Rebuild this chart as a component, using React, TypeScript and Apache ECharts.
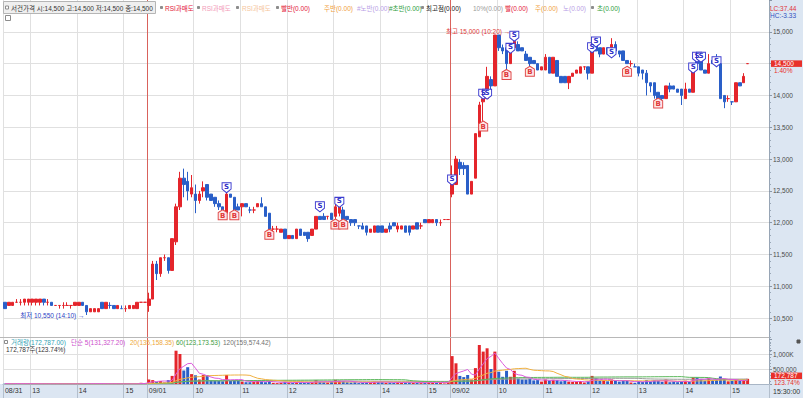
import React, { useEffect, useRef } from 'react';
import * as echarts from 'echarts';

const FONT = '"Liberation Sans Narrow", "Liberation Sans", "Noto Sans CJK KR", sans-serif';
const LFS = 6.5; // legend font size

// ---- time axis ----
const dayNames = ['08/31', '09/01', '09/02'];
const dayFirst = ['12:25', '09:00', '09:00'];
const dayLast = ['15:30', '15:30', '15:20'];
const padSlots = 5;

const tickIndex = [0, 7, 19, 31, 37, 49, 61, 73, 85, 97, 109, 115, 127, 139, 151, 163, 175, 187];
const tickText = ['08/31', '13', '14', '15', '09/01', '10', '11', '12', '13', '14', '15', '09/02', '10', '11', '12', '13', '14', '15'];
const dayBreakIndex = [37, 115];

// ---- price: [open, close, low, high] ----
const ohlc0831 = [
  [10750, 10650, 10650, 10750], [10700, 10750, 10700, 10750], [10700, 10750, 10700, 10750], [10750, 10750, 10750, 10800],
  [10750, 10750, 10700, 10800], [10750, 10800, 10700, 10800], [10750, 10800, 10700, 10800], [10750, 10800, 10700, 10800],
  [10750, 10800, 10700, 10800], [10750, 10800, 10700, 10800], [10800, 10750, 10700, 10800], [10750, 10750, 10700, 10800],
  [10750, 10700, 10700, 10750], [10700, 10700, 10700, 10700], [10700, 10700, 10650, 10700], [10700, 10700, 10650, 10750],
  [10700, 10700, 10700, 10750], [10700, 10700, 10650, 10700], [10700, 10750, 10700, 10750], [10700, 10750, 10700, 10750],
  [10750, 10700, 10700, 10750], [10700, 10600, 10550, 10700], [10600, 10650, 10600, 10650], [10600, 10650, 10600, 10650],
  [10600, 10650, 10600, 10650], [10750, 10650, 10650, 10750], [10650, 10750, 10650, 10750], [10700, 10700, 10650, 10750],
  [10700, 10650, 10650, 10700], [10650, 10700, 10650, 10700], [10650, 10650, 10650, 10700], [10650, 10650, 10600, 10700],
  [10650, 10700, 10650, 10700], [10650, 10700, 10650, 10700], [10650, 10750, 10650, 10750], [10750, 10750, 10750, 10750],
  [10750, 10750, 10750, 10750],
];
const ohlc0901 = [
  [10700, 10800, 10600, 10900], [10800, 11350, 10800, 11400], [11350, 11200, 11100, 11400], [11200, 11450, 11150, 11450],
  [11450, 11450, 11400, 11500], [11450, 11250, 11200, 11450], [11250, 11750, 11250, 11750], [11700, 12250, 11650, 12300],
  [12250, 12700, 12200, 12800], [12700, 12600, 12400, 12850], [12650, 12500, 12350, 12800], [12450, 12550, 12400, 12750],
  [12450, 12350, 12150, 12600], [12350, 12450, 12300, 12500], [12500, 12550, 12400, 12650], [12600, 12400, 12350, 12600],
  [12450, 12350, 12350, 12450], [12400, 12300, 12250, 12400], [12300, 12250, 12200, 12350], [12250, 12200, 12150, 12250],
  [12150, 12450, 12150, 12500], [12450, 12400, 12400, 12450], [12400, 12200, 12200, 12400], [12250, 12200, 12200, 12300],
  [12250, 12300, 12100, 12300], [12300, 12250, 12250, 12300], [12200, 12200, 12150, 12250], [12200, 12200, 12150, 12250],
  [12250, 12300, 12250, 12300], [12300, 12250, 12250, 12400], [12250, 12100, 12100, 12250], [12150, 11900, 11900, 12150],
  [11900, 11900, 11850, 11950], [11900, 11900, 11850, 11950], [11850, 11900, 11850, 11900], [11900, 11750, 11750, 11900],
  [11750, 11800, 11750, 11800], [11800, 11750, 11750, 11800], [11750, 11900, 11750, 11900], [11900, 11800, 11800, 11900],
  [11850, 11800, 11800, 11850], [11850, 11750, 11700, 11850], [11800, 11900, 11800, 11900], [11900, 12100, 11900, 12100],
  [12100, 12050, 12050, 12100], [12100, 12050, 12050, 12150], [12100, 12100, 12050, 12100], [12150, 12050, 12050, 12150],
  [12100, 12250, 11950, 12300], [12150, 12250, 12100, 12350], [12200, 12050, 12000, 12250], [12100, 12050, 12000, 12100],
  [12050, 12000, 11950, 12050], [12050, 12000, 11950, 12050], [11950, 11950, 11900, 11950], [11950, 11900, 11900, 12000],
  [11950, 11850, 11800, 11950], [11850, 11900, 11850, 11900], [11850, 11950, 11850, 11950], [11950, 11850, 11850, 11950],
  [11950, 11850, 11850, 11950], [11850, 11900, 11850, 11900], [11950, 11900, 11850, 12000], [12000, 11950, 11950, 12000],
  [11900, 11950, 11850, 12000], [11900, 11950, 11900, 11950], [11950, 11850, 11850, 11950], [11950, 11850, 11800, 11950],
  [11900, 11950, 11900, 11950], [12000, 11900, 11900, 12000], [11950, 11950, 11900, 12000], [12050, 12000, 12000, 12050],
  [12000, 12050, 12000, 12050], [12000, 12050, 12000, 12050], [12050, 12000, 11950, 12050], [12000, 12000, 11950, 12050],
  [12050, 12050, 12050, 12050], [12050, 12050, 12050, 12050],
];
const ohlc0902 = [
  [12450, 12600, 12400, 12900], [12600, 13000, 12600, 13050], [12950, 12850, 12750, 13000], [12900, 12850, 12750, 12950],
  [12900, 12450, 12450, 12900], [12450, 12650, 12450, 12650], [12700, 13400, 12700, 13400], [13350, 13850, 13350, 13900],
  [13900, 13950, 13600, 14000], [13950, 14300, 13950, 14450], [14250, 14150, 14100, 14300], [14150, 14950, 14150, 14950],
  [14950, 14750, 14700, 14950], [14750, 14700, 14650, 14800], [14750, 14500, 14400, 14750], [14500, 14700, 14500, 14700],
  [14750, 14850, 14750, 15000], [14800, 14700, 14700, 14850], [14750, 14700, 14700, 14750], [14650, 14550, 14550, 14700],
  [14600, 14500, 14450, 14600], [14550, 14500, 14500, 14550], [14500, 14400, 14400, 14500], [14400, 14450, 14400, 14450],
  [14400, 14600, 14400, 14650], [14600, 14350, 14350, 14600], [14350, 14600, 14350, 14600], [14550, 14300, 14300, 14550],
  [14300, 14200, 14200, 14300], [14300, 14200, 14200, 14300], [14200, 14300, 14100, 14300], [14300, 14350, 14300, 14350],
  [14350, 14400, 14350, 14400], [14350, 14450, 14350, 14450], [14450, 14450, 14400, 14450], [14450, 14350, 14250, 14450],
  [14350, 14800, 14350, 14800], [14850, 14700, 14700, 14850], [14750, 14650, 14600, 14750], [14650, 14750, 14650, 14750],
  [14750, 14650, 14650, 14750], [14750, 14800, 14750, 14900], [14800, 14700, 14650, 14850], [14700, 14650, 14600, 14700],
  [14700, 14550, 14550, 14700], [14550, 14500, 14500, 14550], [14500, 14500, 14450, 14550], [14450, 14450, 14450, 14500],
  [14450, 14350, 14300, 14450], [14400, 14350, 14250, 14400], [14350, 14200, 14000, 14400], [14200, 14150, 14050, 14200],
  [14200, 14000, 13950, 14200], [14050, 13900, 13900, 14050], [14000, 13950, 13850, 14000], [13950, 14150, 13950, 14150],
  [14150, 14100, 14050, 14200], [14150, 14100, 14100, 14150], [14100, 14050, 14050, 14100], [14100, 14000, 13850, 14100],
  [13950, 14100, 13950, 14200], [14100, 14050, 14050, 14100], [14050, 14400, 14050, 14400], [14600, 14500, 14500, 14600],
  [14600, 14400, 14400, 14600], [14400, 14350, 14350, 14400], [14350, 14500, 14350, 14650], [14550, 14500, 14500, 14550],
  [14550, 14500, 14500, 14650], [14500, 13950, 13950, 14500], [14000, 13900, 13800, 14000], [13950, 13950, 13900, 14000],
  [13900, 13900, 13850, 13900], [13900, 14200, 13900, 14200], [14200, 14150, 14150, 14200], [14200, 14300, 14200, 14350],
  [14500, 14500, 14500, 14500],
];

// ---- volume ----
const vol0831 = [
  12000, 8000, 6000, 25000, 5000, 9000, 7000, 6000, 5000, 8000, 6000, 4000, 5000, 3000, 4000, 3000, 3000, 4000, 6000,
  5000, 4000, 30000, 8000, 6000, 5000, 12000, 10000, 6000, 5000, 4000, 3000, 4000, 5000, 6000, 8000, 40000, 25000,
];
const vol0901K = [
  150, 130, 70, 100, 50, 130, 270, 1110, 1000, 450,
  560, 330, 290, 150, 300, 300, 120, 110, 100, 90,
  300, 100, 130, 110, 80, 60, 60, 80, 100, 90,
  60, 110, 40, 30, 40, 70, 50, 40, 60, 50,
  40, 50, 60, 130, 70, 60, 50, 80, 140, 110,
  100, 60, 50, 60, 30, 40, 60, 50, 80, 70,
  60, 40, 50, 40, 70, 50, 60, 60, 40, 50,
  30, 40, 70, 60, 50, 40, 20, 60,
];
const vol0902K = [
  930, 690, 270, 230, 300, 150, 530, 1300, 1080, 1190,
  500, 1080, 410, 240, 440, 240, 440, 180, 150, 150,
  180, 120, 130, 80, 150, 120, 140, 130, 90, 100,
  80, 70, 80, 100, 50, 90, 270, 200, 110, 120,
  90, 150, 110, 80, 120, 100, 50, 40, 100, 70,
  130, 80, 120, 110, 70, 150, 60, 80, 60, 90,
  110, 70, 220, 220, 170, 110, 200, 130, 150, 250,
  170, 90, 100, 130, 110, 143.85, 172.787,
];

// ---- signal marks [barIndex, price] ----
const sMarks = [
  [57, 12550], [81, 12250], [86, 12320], [115, 12670], [123, 14020], [124, 14020], [130, 14740], [131, 14930],
  [151, 14750], [152, 14840], [156, 14670], [177, 14430], [178, 14600], [179, 14600], [183, 14530],
];
const bMarks = [
  [56, 12125], [59, 12125], [68, 11820], [85, 11980], [87, 11980], [123, 13520], [129, 14330], [135, 14380],
  [160, 14380], [168, 13880],
];
const lowMark = [21, 10550];
const highMark = [131, 15000];
const lastPrice = 14500;
const lastVolume = 172787;

const UP = '#e4252b';
const DOWN = '#2a5fc8';
const GRIDC = '#e0e0e0';
const DAYC = '#d9625c';
const PANEL = '#dce6f2';

function buildCategories() {
  const out: string[] = [];
  const toMin = (s: string) => parseInt(s.slice(0, 2), 10) * 60 + parseInt(s.slice(3), 10);
  const fmt = (m: number) => String(Math.floor(m / 60)).padStart(2, '0') + ':' + String(m % 60).padStart(2, '0');
  dayNames.forEach((d, k) => {
    const a = toMin(dayFirst[k]);
    const b = toMin(dayLast[k]);
    for (let m = a; m <= Math.min(b, 920); m += 5) out.push(d + ' ' + fmt(m));
    if (b > 920) out.push(d + ' ' + fmt(b));
  });
  for (let p = 0; p < padSlots; p++) out.push('pad' + p);
  return out;
}

function movingAvg(vals: number[], n: number) {
  return vals.map((_, i) => {
    const s = Math.max(0, i - n + 1);
    let sum = 0;
    for (let k = s; k <= i; k++) sum += vals[k];
    return Math.round(sum / (i - s + 1));
  });
}

function buildOption() {
  const cats = buildCategories();
  const ohlc = [...ohlc0831, ...ohlc0901, ...ohlc0902];
  const vols = [...vol0831, ...vol0901K.map((v) => v * 1000), ...vol0902K.map((v) => Math.round(v * 1000))];
  const dir = ohlc.map((d, i) => (d[1] > d[0] ? 1 : d[1] < d[0] ? -1 : i > 0 && d[1] < ohlc[i - 1][1] ? -1 : 1));
  const volData = vols.map((v, i) => ({ value: v, itemStyle: { color: dir[i] > 0 ? UP : DOWN } }));
  const tickSet = new Set(tickIndex);
  const breakSet = new Set(dayBreakIndex);
  const tickMap: Record<number, string> = {};
  tickIndex.forEach((t, k) => (tickMap[t] = tickText[k]));

  const SHIELD = 'path://M0,0L10,0L10,7L5,11L0,7Z';
  const HOUSE = 'path://M5,0L10,3L10,11L0,11L0,3Z';

  const txt = (text: string, x: number, y: number, fill: string, extra: any = {}) => ({
    type: 'text', x, y, silent: true, z: 50,
    style: { text, fill, fontSize: LFS, fontFamily: FONT, verticalAlign: 'middle', align: 'left', ...extra },
  });
  const sq = (x: number, y: number, fill: string, stroke: string, s = 4) => ({
    type: 'rect', silent: true, z: 50, shape: { x, y, width: s, height: s }, style: { fill, stroke, lineWidth: 1 },
  });

  const hiddenCat = (grid: number, splitFn: (i: number) => boolean, color: string, extra: any = {}) => ({
    gridIndex: grid, type: 'category', data: cats, boundaryGap: true,
    axisLine: { show: false }, axisTick: { show: false }, axisLabel: { show: false },
    splitLine: { show: true, interval: (i: number) => splitFn(i), lineStyle: { color, width: 1 }, ...extra },
  });

  return {
    animation: false,
    backgroundColor: '#ffffff',
    textStyle: { fontFamily: FONT },
    grid: [
      { left: 3, right: 34, top: -2, height: 352 },
      { left: 3, right: 34, top: 339, height: 45 },
    ],
    xAxis: [
      hiddenCat(0, (i) => tickSet.has(i), GRIDC),
      hiddenCat(0, (i) => breakSet.has(i), DAYC, { showMaxLine: false }),
      {
        gridIndex: 1, type: 'category', data: cats, boundaryGap: true,
        axisLine: { show: true, lineStyle: { color: '#a9b6c6' } },
        axisTick: { show: true, interval: (i: number) => tickSet.has(i), length: 14, lineStyle: { color: '#b3bfcd' } },
        axisLabel: {
          show: true, interval: (i: number) => tickSet.has(i), formatter: (_v: string, i: number) => tickMap[i] || '',
          align: 'left', margin: 3, fontSize: 7, color: '#333', fontFamily: FONT,
        },
        splitLine: { show: true, interval: (i: number) => tickSet.has(i), lineStyle: { color: GRIDC, width: 1 } },
      },
      hiddenCat(1, (i) => breakSet.has(i), DAYC, { showMaxLine: false }),
    ],
    yAxis: [
      {
        gridIndex: 0, type: 'value', position: 'right', min: 10000, max: 15500, interval: 500,
        axisLine: { show: true, lineStyle: { color: '#97a5b5' } },
        axisTick: { show: true, length: 3, lineStyle: { color: '#8a98a8' } },
        minorTick: { show: true, splitNumber: 5, length: 2, lineStyle: { color: '#9aa8b8' } },
        axisLabel: {
          margin: 4, fontSize: 6.5, color: '#4a4a4a', fontFamily: FONT,
          formatter: (v: number) => (v <= 10000 || v >= 15500 || v === lastPrice ? '' : v.toLocaleString('en-US')),
        },
        splitLine: { show: true, showMinLine: false, showMaxLine: false, lineStyle: { color: GRIDC, width: 1 } },
      },
      {
        gridIndex: 1, type: 'value', position: 'right', min: 0, max: 1500000, interval: 500000,
        axisLine: { show: true, lineStyle: { color: '#97a5b5' } },
        axisTick: { show: true, length: 3, lineStyle: { color: '#8a98a8' } },
        minorTick: { show: true, splitNumber: 5, length: 2, lineStyle: { color: '#9aa8b8' } },
        axisLabel: {
          margin: 4, fontSize: 6.5, color: '#4a4a4a', fontFamily: FONT,
          formatter: (v: number) => (v === 1000000 ? '1,000K' : v === 500000 ? '500,000' : ''),
        },
        splitLine: { show: true, showMinLine: false, showMaxLine: false, lineStyle: { color: GRIDC, width: 1 } },
      },
    ],
    series: [
      {
        type: 'candlestick', name: '가격', xAxisIndex: 0, yAxisIndex: 0, data: ohlc, barWidth: 3,
        itemStyle: { color: UP, color0: DOWN, borderColor: UP, borderColor0: DOWN, borderWidth: 1 },
        markPoint: {
          silent: true,
          data: [
            ...sMarks.map(([i, p]) => ({
              coord: [i, p], symbol: SHIELD, symbolSize: [9, 10],
              itemStyle: { color: '#ffffff', borderColor: '#3d3dd0', borderWidth: 1 },
              label: { show: true, position: 'inside', formatter: 'S', color: '#3030c8', fontSize: 7, fontWeight: 'bold', fontFamily: 'DejaVu Sans', offset: [0, -1] },
            })),
            ...bMarks.map(([i, p]) => ({
              coord: [i, p], symbol: HOUSE, symbolSize: [9, 10],
              itemStyle: { color: '#fde6e6', borderColor: '#e04848', borderWidth: 1 },
              label: { show: true, position: 'inside', formatter: 'B', color: '#e03838', fontSize: 7, fontWeight: 'bold', fontFamily: 'DejaVu Sans', offset: [0, 1] },
            })),
            {
              coord: lowMark, symbol: 'circle', symbolSize: 0,
              label: { show: true, position: 'left', distance: 2, formatter: '최저 10,550 (14:10) →', color: '#2b3fc4', fontSize: LFS, fontFamily: FONT },
            },
            {
              coord: highMark, symbol: 'circle', symbolSize: 0,
              label: { show: true, position: 'left', distance: 4, formatter: '최고 15,000 (10:20) →', color: '#e03a3a', fontSize: LFS, fontFamily: FONT },
            },
          ],
        },
        markLine: {
          silent: true, symbol: ['none', 'none'],
          lineStyle: { color: 'rgba(0,0,0,0)', width: 1, type: 'solid' },
          label: {
            show: true, position: 'end', distance: 2, color: '#e8302a', fontFamily: FONT,
            formatter: '{s| }\n{a|14,500}\n{b|1.40%}',
            rich: {
              s: { fontSize: 6.5, lineHeight: 7 },
              a: { fontSize: 6.5, lineHeight: 7, color: '#ffffff', backgroundColor: '#e8302a', width: 28, padding: [0, 0, 0, 3], fontFamily: FONT },
              b: { fontSize: 6.5, lineHeight: 7, color: '#e8302a', padding: [0, 0, 0, 3], fontFamily: FONT },
            },
          },
          data: [{ yAxis: lastPrice }],
        },
      },
      {
        type: 'bar', name: '거래량', xAxisIndex: 2, yAxisIndex: 1, data: volData, barWidth: 3,
        markLine: {
          silent: true, symbol: ['none', 'none'],
          lineStyle: { color: 'rgba(0,0,0,0)', width: 1, type: 'solid' },
          label: {
            show: true, position: 'end', distance: 2, color: '#e8302a', fontFamily: FONT,
            formatter: '{a|172,787}\n{b|123.74%}',
            rich: {
              a: { fontSize: 6.5, lineHeight: 7, color: '#ffffff', backgroundColor: '#e8302a', width: 28, padding: [0, 0, 0, 3], fontFamily: FONT },
              b: { fontSize: 6.5, lineHeight: 6, color: '#e8302a', padding: [0, 0, 0, 3], fontFamily: FONT },
            },
          },
          data: [{ yAxis: lastVolume }],
        },
      },
      { type: 'line', name: 'MA120', xAxisIndex: 2, yAxisIndex: 1, data: movingAvg(vols, 120), showSymbol: false, lineStyle: { color: '#9a9a9a', width: 1 } },
      { type: 'line', name: 'MA60', xAxisIndex: 2, yAxisIndex: 1, data: movingAvg(vols, 60), showSymbol: false, lineStyle: { color: '#5cb85c', width: 1 } },
      { type: 'line', name: 'MA20', xAxisIndex: 2, yAxisIndex: 1, data: movingAvg(vols, 20), showSymbol: false, lineStyle: { color: '#f0b040', width: 1 } },
      { type: 'line', name: 'MA5', xAxisIndex: 2, yAxisIndex: 1, data: movingAvg(vols, 5), showSymbol: false, lineStyle: { color: '#dc5adc', width: 1 } },
    ],
    graphic: [
      { type: 'rect', silent: true, z: -10, shape: { x: 769, y: 0, width: 34, height: 398 }, style: { fill: PANEL } },
      { type: 'rect', silent: true, z: -10, shape: { x: 0, y: 384, width: 769, height: 14 }, style: { fill: PANEL } },
      { type: 'line', silent: true, z: 5, shape: { x1: 0, y1: 337.5, x2: 769, y2: 337.5 }, style: { stroke: '#b8b8b8', lineWidth: 1 } },
      { type: 'rect', silent: true, z: 40, shape: { x: 3.5, y: 1.5, width: 152, height: 12 }, style: { fill: '#efefef', stroke: '#b5b5b5', lineWidth: 1 } },
      sq(5.5, 6, '#ffffff', '#8c8c8c', 3),
      txt('서건가격 시:14,500 고:14,500 저:14,500 종:14,500', 11, 8, '#333333'),
      sq(160.5, 6.5, '#8c8c8c', '#8c8c8c', 2),
      txt('RSI과매도', 165, 8, '#e3203a'),
      sq(197.5, 6.5, '#8c8c8c', '#8c8c8c', 2),
      txt('RSI과매도', 202, 8, '#f29bb9'),
      sq(236.5, 6.5, '#8c8c8c', '#8c8c8c', 2),
      txt('RSI과매도', 242, 8, '#f5c59c'),
      sq(276.5, 6.5, '#8c8c8c', '#8c8c8c', 2),
      txt('빨반(0.00)', 281, 8, '#e3203a'),
      txt('주반(0.00)', 324, 8, '#f0a040'),
      txt('#노반(0.00)', 357, 8, '#b9a0e6'),
      txt('#초반(0.00)', 389, 8, '#2e9e3e'),
      sq(421.5, 6.5, '#8c8c8c', '#8c8c8c', 2),
      txt('최고점(0.00)', 426, 8, '#222222'),
      txt('10%(0.00)', 473, 8, '#9a9a9a'),
      txt('빨(0.00)', 505, 8, '#e3203a'),
      txt('주(0.00)', 535, 8, '#f0a040'),
      txt('노(0.00)', 563, 8, '#b9a0e6'),
      sq(591.5, 6.5, '#8c8c8c', '#8c8c8c', 2),
      txt('초(0.00)', 597, 8, '#2e9e3e'),
      sq(5.5, 15.5, '#ffffff', '#8c8c8c', 5),
      txt('LC:37.44', 770, 8, '#e0303a'),
      txt('HC:-3.33', 770, 15.5, '#3050c0'),
      sq(4.5, 340.5, '#ffffff', '#8c8c8c', 3),
      txt('거래량(172,787.00)', 11, 342.5, '#2e9fb4'),
      txt('단순 5(131,327.20)', 71, 342.5, '#cc4fcc'),
      txt('20(135,158.35)', 130, 342.5, '#eea83a'),
      txt('60(123,173.53)', 176, 342.5, '#3e9d3e'),
      txt('120(159,574.42)', 223, 342.5, '#707070'),
      txt('172,787주(123.74%)', 6, 349.5, '#333333'),
      sq(797, 340, '#555555', '#555555', 3),
      txt('15:30:00', 773, 391, '#333333', { fontSize: 7 }),
    ],
  };
}

export default function App() {
  const ref = useRef<HTMLDivElement>(null);
  useEffect(() => {
    if (!ref.current) return;
    const chart = echarts.init(ref.current, undefined, { renderer: 'svg' });
    chart.setOption(buildOption() as any);
    return () => chart.dispose();
  }, []);
  return <div ref={ref} style={{ position: 'fixed', left: 0, top: 0, width: 803, height: 398 }} />;
}
